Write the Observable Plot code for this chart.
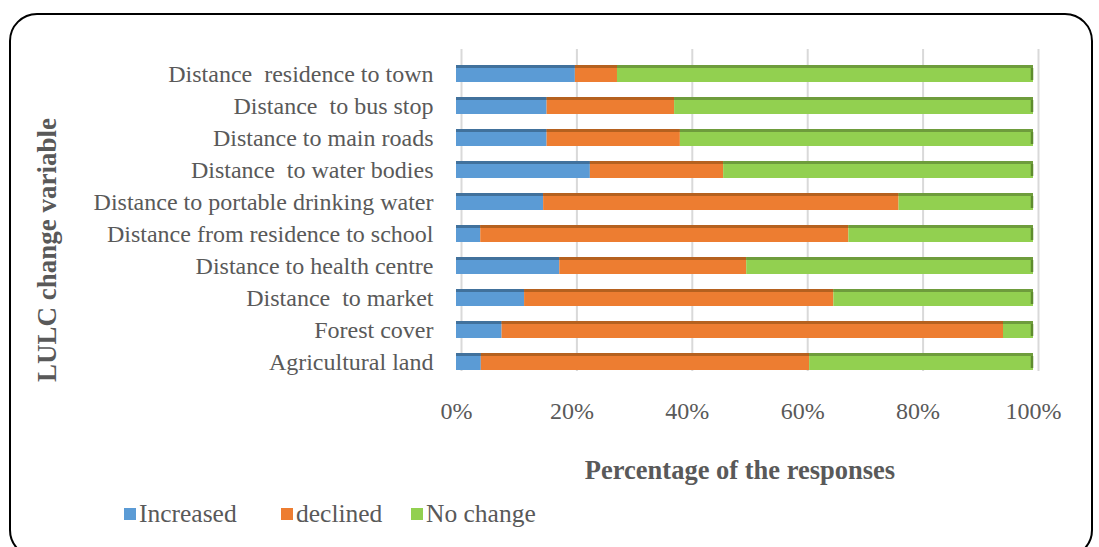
<!DOCTYPE html>
<html>
<head>
<meta charset="utf-8">
<script src="https://cdn.jsdelivr.net/npm/d3@7"></script>
<script src="https://cdn.jsdelivr.net/npm/@observablehq/plot@0.6"></script>
<style>
  html, body { margin: 0; padding: 0; background: #fff; overflow: hidden; }
  body { width: 1099px; height: 547px; position: relative; font-family: "Liberation Serif", "Times New Roman", serif; }
  #frame { position: absolute; left: 9px; top: 13px; width: 1084px; height: 545px; border: 2px solid #000; border-radius: 28px; box-sizing: border-box; }
  #chart { position: absolute; left: 0; top: 0; }
  #chart svg text { white-space: pre; }
  .ytitle { position: absolute; left: 47px; top: 250px; transform: translate(-50%, -50%) rotate(-90deg); font-weight: bold; font-size: 27px; color: #595959; white-space: nowrap; }
  .xtitle { position: absolute; left: 740px; top: 470px; transform: translate(-50%, -50%); font-weight: bold; font-size: 26.5px; color: #595959; white-space: nowrap; }
  .legend .item { position: absolute; top: 514px; transform: translateY(-50%); display: flex; align-items: center; white-space: nowrap; font-size: 25.5px; color: #595959; }
  .legend .sw { width: 12px; height: 12px; margin-right: 3px; }
</style>
</head>
<body>
<div id="frame"></div>
<div id="chart"></div>
<div class="ytitle">LULC change variable</div>
<div class="xtitle">Percentage of the responses</div>
<div class="legend" id="legend"></div>
<script>
// Categories, top to bottom
const categories = [
  "Distance  residence to town",
  "Distance  to bus stop",
  "Distance to main roads",
  "Distance  to water bodies",
  "Distance to portable drinking water",
  "Distance from residence to school",
  "Distance to health centre",
  "Distance  to market",
  "Forest cover",
  "Agricultural land"
];
const seriesNames = ["Increased", "declined", "No change"];
const increased = [20.6, 15.7, 15.7, 23.2, 15.1, 4.2, 17.9, 11.8, 7.9, 4.3];
const declined  = [7.3, 22.1, 23.1, 23.1, 61.6, 63.8, 32.4, 53.6, 86.9, 56.9];
const noChange  = [72.1, 62.2, 61.2, 53.7, 23.3, 32.0, 49.7, 34.6, 5.2, 38.8];
const xTicks = [0, 20, 40, 60, 80, 100];
const colors = ["#5B9BD5", "#ED7D31", "#92D050"];
const topColors = ["#41719C", "#B5611F", "#6E9C3C"];

const seriesValues = [increased, declined, noChange];
const data = [];
categories.forEach((c, i) => {
  seriesNames.forEach((s, j) => {
    data.push({category: c, series: s, value: seriesValues[j][i]});
  });
});
const totals = categories.map((c, i) => ({category: c, total: increased[i] + declined[i] + noChange[i]}));

const chart = Plot.plot({
  width: 1099,
  height: 440,
  marginLeft: 456,
  marginRight: 66,
  marginTop: 57,
  marginBottom: 61,
  style: {fontFamily: "'Liberation Serif', 'Times New Roman', serif", fontSize: "24px", color: "#595959", background: "transparent"},
  x: {domain: [0, 100], label: null},
  y: {domain: categories, paddingInner: 0.46, paddingOuter: 0.25, align: 0.5, label: null},
  color: {domain: seriesNames, range: colors},
  marks: [
    Plot.ruleX(xTicks, {x: d => d, dx: 5, dy: -8, stroke: "#d9d9d9", strokeWidth: 2}),
    Plot.barX(data, Plot.stackX({y: "category", x: "value", fill: "series", order: seriesNames})),
    Plot.barX(data, Plot.stackX({y: "category", x: "value", fill: d => topColors[seriesNames.indexOf(d.series)], order: seriesNames, insetBottom: 14})),
    Plot.tickX(totals, {x: "total", y: "category", stroke: "#5E8C2E", strokeWidth: 2.5, dx: -1.5, insetTop: 3, insetBottom: 2}),
    Plot.axisX({ticks: xTicks, tickFormat: d => d + "%", tickSize: 0, tickPadding: 22, fontSize: 24, label: null}),
    Plot.axisY({tickSize: 0, tickPadding: 23, fontSize: 24, label: null})
  ]
});
document.getElementById("chart").appendChild(chart);

const legend = document.getElementById("legend");
const lefts = [124, 281, 411];
seriesNames.forEach((s, i) => {
  const item = document.createElement("div");
  item.className = "item";
  item.style.left = lefts[i] + "px";
  const sw = document.createElement("span");
  sw.className = "sw";
  sw.style.background = colors[i];
  const t = document.createElement("span");
  t.textContent = s;
  item.appendChild(sw);
  item.appendChild(t);
  legend.appendChild(item);
});
</script>
</body>
</html>
